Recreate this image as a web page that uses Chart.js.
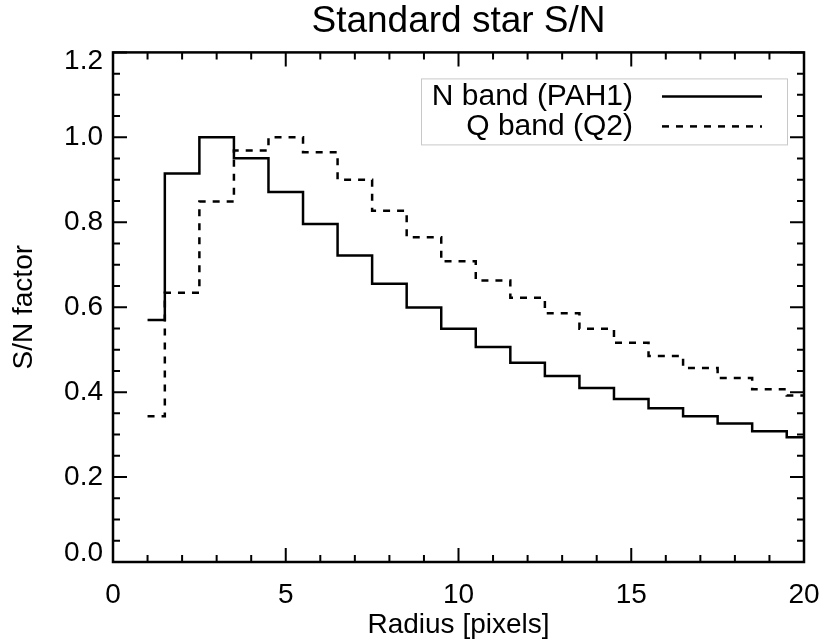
<!DOCTYPE html>
<html>
<head>
<meta charset="utf-8">
<script src="https://cdn.jsdelivr.net/npm/chart.js@4.4.0/dist/chart.umd.min.js"></script>
<style>
    html, body { margin: 0; padding: 0; background: #fff; }
    #wrap { width: 821px; height: 642px; }
</style>
</head>
<body>
<div id="wrap"><canvas id="snChart" width="821" height="642"></canvas></div>
<script>
// radius in pixels, one value per pixel (IDL psym=10 style histogram)
const radius = [1, 2, 3, 4, 5, 6, 7, 8, 9, 10, 11, 12, 13, 14, 15, 16, 17, 18, 19, 20];
const nBand = [0.570, 0.915, 1.000, 0.951, 0.871, 0.796, 0.722, 0.655, 0.599, 0.549,
               0.506, 0.469, 0.438, 0.410, 0.384, 0.362, 0.343, 0.326, 0.308, 0.294];
const qBand = [0.343, 0.634, 0.849, 0.969, 1.000, 0.965, 0.900, 0.827, 0.765, 0.708,
               0.663, 0.622, 0.586, 0.549, 0.516, 0.485, 0.457, 0.433, 0.407, 0.392];
const seriesNames = ["N band (PAH1)", "Q band (Q2)"];
const xTicks = [0, 5, 10, 15, 20];
const yTicks = [0.0, 0.2, 0.4, 0.6, 0.8, 1.0, 1.2];

const FONT = "'Liberation Sans', Arial, Helvetica, sans-serif";
Chart.defaults.font.family = FONT;
Chart.defaults.color = "#000";

const toPoints = (ys) => radius.map((x, i) => ({x: x, y: ys[i]}));

// IDL keeps the end labels of the y axis inside the frame
const edgeLabelsPlugin = {
    id: "edgeLabels",
    beforeDraw(chart) {
        const items = chart.scales.y.getLabelItems(chart.chartArea);
        if (!items.length) return;
        items[0].options.translation[1] -= 9;
        items[items.length - 1].options.translation[1] += 9;
    }
};

// IDL style frame: box on all sides, ticks pointing inward
const framePlugin = {
    id: "frame",
    afterDatasetsDraw(chart) {
        const {ctx, chartArea: a, scales} = chart;
        const xs = scales.x, ys = scales.y;
        ctx.save();
        ctx.strokeStyle = "#000";
        ctx.lineWidth = 2;
        ctx.beginPath();
        for (let v = 0; v <= 20; v += 1) {
            const px = xs.getPixelForValue(v);
            const len = v % 5 === 0 ? 14 : 7;
            ctx.moveTo(px, a.bottom); ctx.lineTo(px, a.bottom - len);
            ctx.moveTo(px, a.top); ctx.lineTo(px, a.top + len);
        }
        for (let i = 0; i <= 24; i++) {
            const py = ys.getPixelForValue(i * 0.05);
            const len = i % 4 === 0 ? 14 : 7;
            ctx.moveTo(a.left, py); ctx.lineTo(a.left + len, py);
            ctx.moveTo(a.right, py); ctx.lineTo(a.right - len, py);
        }
        ctx.stroke();
        ctx.lineWidth = 2.5;
        ctx.strokeRect(a.left, a.top, a.right - a.left, a.bottom - a.top);
        ctx.restore();
    }
};

// legend: label text right-aligned, line sample to its right, thin grey box
const legendPlugin = {
    id: "idlLegend",
    afterDraw(chart) {
        const {ctx, chartArea: a} = chart;
        const boxR = a.right - 17, boxL = boxR - 366, boxT = a.top + 26, boxB = boxT + 66;
        ctx.save();
        ctx.strokeStyle = "#c8c8c8";
        ctx.lineWidth = 1;
        ctx.strokeRect(boxL + 0.5, boxT + 0.5, boxR - boxL, boxB - boxT);
        ctx.font = "30px " + FONT;
        ctx.fillStyle = "#000";
        ctx.strokeStyle = "#000";
        ctx.textAlign = "right";
        ctx.textBaseline = "middle";
        chart.data.datasets.forEach((ds, i) => {
            const y = boxT + 18 + i * 30;
            ctx.fillText(ds.label, boxR - 154, y);
            ctx.beginPath();
            ctx.lineWidth = ds.borderWidth;
            ctx.setLineDash(ds.borderDash || []);
            ctx.moveTo(boxR - 125, y);
            ctx.lineTo(boxR - 25, y);
            ctx.stroke();
        });
        ctx.restore();
    }
};

new Chart(document.getElementById("snChart"), {
    type: "line",
    data: {
        datasets: [{
            label: seriesNames[0],
            data: toPoints(nBand),
            borderColor: "#000",
            borderWidth: 2.5,
            stepped: "middle",
            pointRadius: 0,
            fill: false
        }, {
            label: seriesNames[1],
            data: toPoints(qBand),
            borderColor: "#000",
            borderWidth: 2.5,
            borderDash: [7, 7],
            stepped: "middle",
            pointRadius: 0,
            fill: false
        }]
    },
    options: {
        responsive: false,
        animation: false,
        layout: {padding: {left: 0, right: 0, top: 0, bottom: 0}},
        plugins: {
            legend: {display: false},
            tooltip: {enabled: false},
            title: {
                display: true,
                fullSize: false,
                text: "Standard star S/N",
                color: "#000",
                font: {size: 37, weight: "normal"},
                padding: {top: 0, bottom: 8}
            }
        },
        scales: {
            x: {
                type: "linear",
                min: 0,
                max: 20,
                grid: {display: false, drawTicks: false},
                border: {display: false},
                afterBuildTicks: (s) => { s.ticks = xTicks.map(v => ({value: v})); },
                ticks: {font: {size: 28}, padding: 16, maxRotation: 0},
                title: {display: true, text: "Radius [pixels]", font: {size: 28}, padding: {top: 0, bottom: 0}},
                afterFit: (s) => { s.height = 80; s.paddingRight = 17; }
            },
            y: {
                min: 0,
                max: 1.2,
                grid: {display: false, drawTicks: false},
                border: {display: false},
                afterBuildTicks: (s) => { s.ticks = yTicks.map(v => ({value: v})); },
                ticks: {font: {size: 28}, padding: 10, callback: (v) => v.toFixed(1)},
                title: {display: true, text: "S/N factor", font: {size: 28}, padding: {top: 7, bottom: 0}},
                afterFit: (s) => { s.width = 113; }
            }
        }
    },
    plugins: [edgeLabelsPlugin, framePlugin, legendPlugin]
});
</script>
</body>
</html>
